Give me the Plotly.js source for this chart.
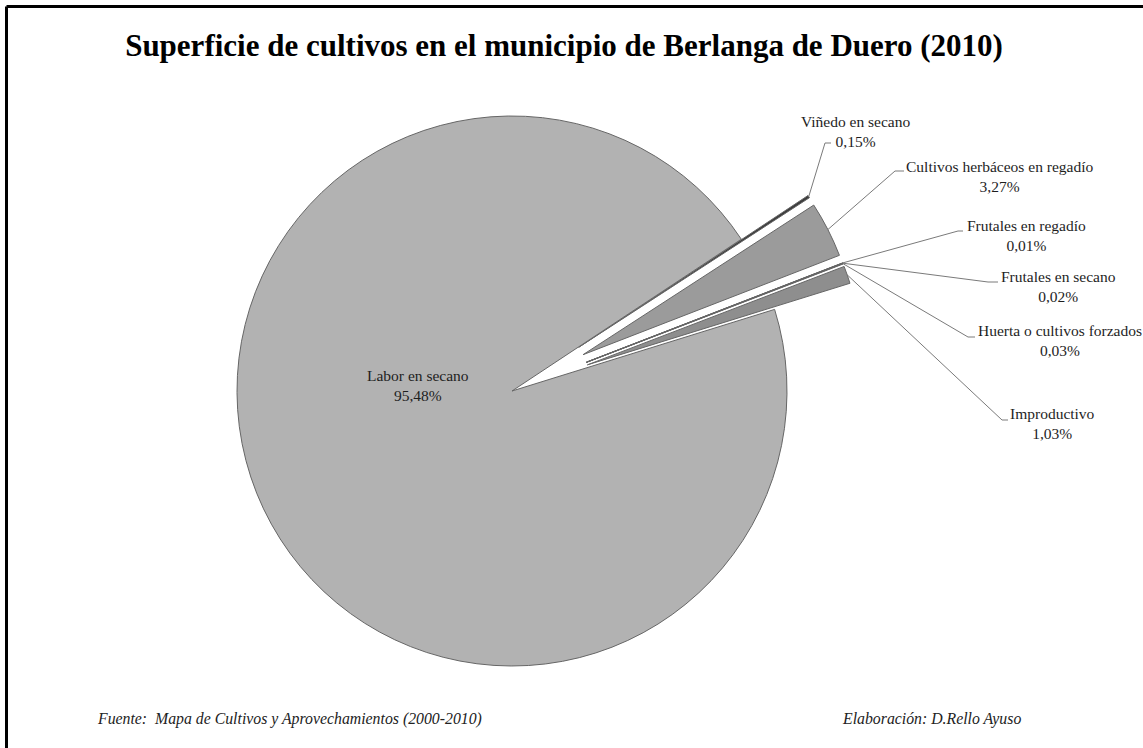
<!DOCTYPE html>
<html>
<head>
<meta charset="utf-8">
<script src="https://cdn.plot.ly/plotly-3.0.1.min.js"></script>
<style>html,body{margin:0;padding:0;background:#fff;}#chart{width:1143px;height:748px;}</style>
</head>
<body>
<div id="chart"></div>
<script>
// ---- data ----
const categories = ["Viñedo en secano", "Cultivos herbáceos en regadío", "Frutales en regadío",
  "Frutales en secano", "Huerta o cultivos forzados", "Improductivo", "Labor en secano"];
const shares = [0.15, 3.27, 0.01, 0.02, 0.03, 1.03, 95.48];
const shareLabels = ["0,15%", "3,27%", "0,01%", "0,02%", "0,03%", "1,03%", "95,48%"];
const sliceColors = ["#3c3c3c", "#9b9b9b", "#5a5a5a", "#4a4a4a", "#555555", "#8e8e8e", "#b2b2b2"];
const pulls = [0.29, 0.29, 0.29, 0.29, 0.29, 0.29, 0];

// ---- layout geometry (pixels) ----
const W = 1143, H = 748;
const CX = 512, CY = 391, R = 275;
const ROT = 56.5;
const maxPull = Math.max(...pulls);
const half = R * (1 + maxPull);
const px = x => x / W, py = y => 1 - y / H;

// label block centres and leader ends (pixels)
const labelPos = [[855, 131], [999, 176], [1026, 235], [1058, 286], [1060, 341], [1052, 423], [418, 386]];
const leaderEnd = [[[825, 143], [831, 143]], [[895, 171], [904, 171]], [[958, 231], [963, 231]],
  [[988, 282], [998, 282]], [[968, 337], [975, 337]], [[1002, 420], [1008, 420]], null];

const total = shares.reduce((a, b) => a + b, 0);
const shapes = [];
const annotations = [];
let cum = 0;
shares.forEach((v, i) => {
  const mid = (ROT + (cum + v / 2) / total * 360) * Math.PI / 180;
  cum += v;
  annotations.push({
    xref: 'paper', yref: 'paper', x: px(labelPos[i][0]), y: py(labelPos[i][1]),
    xanchor: 'center', yanchor: 'middle', showarrow: false, align: 'center',
    text: categories[i] + '<br>' + shareLabels[i],
    font: {family: 'Liberation Serif, Times New Roman, serif', size: 15.5, color: '#1e1e1e'}
  });
  if (leaderEnd[i]) {
    const rr = R + pulls[i] * R;
    const sx = CX + rr * Math.sin(mid), sy = CY - rr * Math.cos(mid);
    const e1 = leaderEnd[i][0], e2 = leaderEnd[i][1];
    shapes.push({
      type: 'path', xref: 'paper', yref: 'paper',
      path: `M ${px(sx)},${py(sy)} L ${px(e1[0])},${py(e1[1])} L ${px(e2[0])},${py(e2[1])}`,
      line: {color: '#7a7a7a', width: 1}
    });
  }
});

// frame
shapes.push({type: 'line', xref: 'paper', yref: 'paper', x0: px(6.5), x1: px(1160), y0: py(6.5), y1: py(6.5), line: {color: '#000', width: 3}});
shapes.push({type: 'line', xref: 'paper', yref: 'paper', x0: px(6.5), x1: px(6.5), y0: py(6.5), y1: py(760), line: {color: '#000', width: 3}});

annotations.push({
  xref: 'paper', yref: 'paper', x: px(95), y: py(719), xanchor: 'left', yanchor: 'middle', showarrow: false,
  text: '<i>Fuente:&nbsp; Mapa de Cultivos y Aprovechamientos (2000-2010)</i>',
  font: {family: 'Liberation Serif, Times New Roman, serif', size: 15.8, color: '#222'}
});
annotations.push({
  xref: 'paper', yref: 'paper', x: px(840), y: py(719), xanchor: 'left', yanchor: 'middle', showarrow: false,
  text: '<i>Elaboración: D.Rello Ayuso</i>',
  font: {family: 'Liberation Serif, Times New Roman, serif', size: 15.8, color: '#222'}
});

const trace = {
  type: 'pie', labels: categories, values: shares, sort: false, direction: 'clockwise',
  rotation: ROT, pull: pulls, textinfo: 'none', hoverinfo: 'label+percent',
  marker: {colors: sliceColors, line: {color: '#666666', width: 1}},
  domain: {x: [px(CX - half), px(CX + half)], y: [py(CY + half), py(CY - half)]},
  showlegend: false
};

const layout = {
  width: W, height: H, margin: {l: 0, r: 0, t: 0, b: 0},
  paper_bgcolor: '#fff', plot_bgcolor: '#fff', showlegend: false,
  title: {text: '<b>Superficie de cultivos en el municipio de Berlanga de Duero (2010)</b>',
    x: px(564), xanchor: 'center', y: py(45), yanchor: 'middle', yref: 'container',
    font: {family: 'Liberation Serif, Times New Roman, serif', size: 31, color: '#000'}},
  shapes: shapes, annotations: annotations
};

Plotly.newPlot('chart', [trace], layout, {displayModeBar: false, staticPlot: true});
</script>
</body>
</html>
